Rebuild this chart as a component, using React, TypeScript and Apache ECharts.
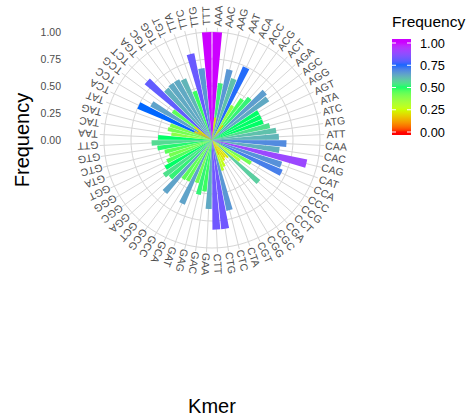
import React, { useEffect, useRef } from 'react';
import * as echarts from 'echarts';

const FONT = "'Liberation Sans', Arial, Helvetica, sans-serif";

const kmers = [
  'AAA', 'AAC', 'AAG', 'AAT', 'ACA', 'ACC', 'ACG', 'ACT', 'AGA', 'AGC', 'AGG', 'AGT', 'ATA', 'ATC', 'ATG', 'ATT',
  'CAA', 'CAC', 'CAG', 'CAT', 'CCA', 'CCC', 'CCG', 'CCT', 'CGA', 'CGC', 'CGG', 'CGT', 'CTA', 'CTC', 'CTG', 'CTT',
  'GAA', 'GAC', 'GAG', 'GAT', 'GCA', 'GCC', 'GCG', 'GCT', 'GGA', 'GGC', 'GGG', 'GGT', 'GTA', 'GTC', 'GTG', 'GTT',
  'TAA', 'TAC', 'TAG', 'TAT', 'TCA', 'TCC', 'TCG', 'TCT', 'TGA', 'TGC', 'TGG', 'TGT', 'TTA', 'TTC', 'TTG', 'TTT',
];

// longest bar of each kmer
const frequency = [
  1.00, 0.53, 0.67, 0.60, 0.74, 0.37, 0.47, 0.52, 0.66, 0.64, 0.50, 0.50, 0.50, 0.55, 0.60, 0.62,
  0.69, 0.63, 0.90, 0.68, 0.71, 0.42, 0.32, 0.58, 0.22, 0.20, 0.22, 0.27, 0.30, 0.67, 0.83, 0.83,
  0.64, 0.48, 0.52, 0.42, 0.65, 0.44, 0.45, 0.65, 0.52, 0.55, 0.50, 0.46, 0.42, 0.45, 0.51, 0.56,
  0.50, 0.38, 0.42, 0.41, 0.75, 0.65, 0.45, 0.81, 0.63, 0.64, 0.64, 0.62, 0.48, 0.82, 0.67, 1.00,
];

// shorter bars of the same kmer, drawn on top
const innerFrequency: (number | string)[] = [
  '-', 0.21, '-', '-', '-', '-', 0.17, '-', '-', '-', '-', '-', '-', '-', '-', '-',
  '-', '-', '-', '-', '-', '-', '-', '-', '-', '-', '-', 0.15, '-', '-', '-', '-',
  '-', '-', '-', '-', '-', '-', '-', '-', '-', '-', '-', '-', '-', '-', '-', '-',
  '-', '-', '-', '-', 0.18, 0.15, 0.20, '-', '-', '-', '-', '-', '-', '-', '-', '-',
];

const legendBreaks = [0, 0.25, 0.5, 0.75, 1];
const rampColours = ['#FF0000', '#CCFF00', '#00FF66', '#0066FF', '#CC00FF'];

// ---- CIELAB colour ramp (like ggplot's gradientn) ----
const WX = 0.95047, WY = 1.0, WZ = 1.08883;
function hexToRgb(h: string) {
  const n = parseInt(h.slice(1), 16);
  return [(n >> 16) & 255, (n >> 8) & 255, n & 255];
}
function toLin(c: number) { c /= 255; return c <= 0.04045 ? c / 12.92 : Math.pow((c + 0.055) / 1.055, 2.4); }
function fromLin(c: number) {
  const v = c <= 0.0031308 ? 12.92 * c : 1.055 * Math.pow(Math.max(c, 0), 1 / 2.4) - 0.055;
  return Math.round(Math.max(0, Math.min(1, v)) * 255);
}
function fLab(t: number) { return t > 216 / 24389 ? Math.cbrt(t) : (24389 / 27 * t + 16) / 116; }
function fInv(t: number) { const t3 = t * t * t; return t3 > 216 / 24389 ? t3 : (116 * t - 16) / (24389 / 27); }
function hexToLab(h: string) {
  const [r0, g0, b0] = hexToRgb(h);
  const r = toLin(r0), g = toLin(g0), b = toLin(b0);
  const x = (0.4124564 * r + 0.3575761 * g + 0.1804375 * b) / WX;
  const y = (0.2126729 * r + 0.7151522 * g + 0.0721750 * b) / WY;
  const z = (0.0193339 * r + 0.1191920 * g + 0.9503041 * b) / WZ;
  const fx = fLab(x), fy = fLab(y), fz = fLab(z);
  return [116 * fy - 16, 500 * (fx - fy), 200 * (fy - fz)];
}
function labToHex(L: number, A: number, B: number) {
  const fy = (L + 16) / 116, fx = fy + A / 500, fz = fy - B / 200;
  const x = fInv(fx) * WX, y = fInv(fy) * WY, z = fInv(fz) * WZ;
  const r = 3.2404542 * x - 1.5371385 * y - 0.4985314 * z;
  const g = -0.9692660 * x + 1.8760108 * y + 0.0415560 * z;
  const b = 0.0556434 * x - 0.2040259 * y + 1.0572252 * z;
  return 'rgb(' + fromLin(r) + ',' + fromLin(g) + ',' + fromLin(b) + ')';
}
const rampLab = rampColours.map(hexToLab);
function ramp(v: any) {
  const num = typeof v === 'number' ? v : Array.isArray(v) ? Number(v[v.length - 1]) : Number(v);
  if (!isFinite(num)) return 'rgba(0,0,0,0)';
  const t = Math.max(0, Math.min(1, num)) * (rampLab.length - 1);
  const i = Math.max(0, Math.min(rampLab.length - 2, Math.floor(t)));
  const f = t - i;
  const a = rampLab[i], b = rampLab[i + 1];
  return labToHex(a[0] + (b[0] - a[0]) * f, a[1] + (b[1] - a[1]) * f, a[2] + (b[2] - a[2]) * f);
}

// ---- layout ----
const CX = 212, CY = 140, R1 = 108; // px for frequency 1.0
const RMAX = 1.04;
const LABEL_R = 1.15;

// legend geometry
const LG_X = 392, LG_TOP = 39, LG_H = 96, LG_W = 19;
const LG_Y0 = 132, LG_Y1 = 43; // y of value 0 and value 1
function legendY(v: number) { return LG_Y0 + (LG_Y1 - LG_Y0) * v; }

export default function App() {
  const ref = useRef<HTMLDivElement>(null);
  useEffect(() => {
    if (!ref.current) return;
    const chart = echarts.init(ref.current, undefined, { renderer: 'svg' });

    const stops: { offset: number; color: string }[] = [];
    for (let k = 0; k <= 60; k++) {
      const off = k / 60;
      const y = LG_TOP + off * LG_H;
      const v = (y - LG_Y0) / (LG_Y1 - LG_Y0);
      stops.push({ offset: off, color: ramp(v) });
    }

    const legendGraphics: any[] = [
      { type: 'text', x: LG_X, y: 21, style: { text: 'Frequency', fill: '#000', fontSize: 15.5, fontFamily: FONT, align: 'left', verticalAlign: 'middle' } },
      {
        type: 'rect', shape: { x: LG_X, y: LG_TOP, width: LG_W, height: LG_H },
        style: { fill: new echarts.graphic.LinearGradient(0, 0, 0, 1, stops) },
      },
    ];
    legendBreaks.forEach((b) => {
      const y = legendY(b);
      legendGraphics.push({ type: 'line', shape: { x1: LG_X, y1: y, x2: LG_X + 4, y2: y }, style: { stroke: '#fff', lineWidth: 1 } });
      legendGraphics.push({ type: 'line', shape: { x1: LG_X + LG_W - 4, y1: y, x2: LG_X + LG_W, y2: y }, style: { stroke: '#fff', lineWidth: 1 } });
      legendGraphics.push({
        type: 'text', x: 420, y,
        style: { text: b.toFixed(2), fill: '#000', fontSize: 12.8, fontFamily: FONT, align: 'left', verticalAlign: 'middle' },
      });
    });

    const option: any = {
      animation: false,
      backgroundColor: '#fff',
      polar: { center: [CX, CY], radius: R1 * RMAX },
      angleAxis: {
        type: 'category', data: kmers, startAngle: 90, clockwise: true, boundaryGap: true,
        axisLine: { show: false }, axisLabel: { show: false, interval: 0 },
        axisTick: { show: false, alignWithLabel: true, interval: 0 },
        splitLine: { show: true, interval: 0, lineStyle: { color: '#d6d6d6', width: 1 } },
      },
      radiusAxis: {
        type: 'value', min: 0, max: RMAX, interval: 0.25,
        axisLine: { show: false }, axisLabel: { show: false }, axisTick: { show: false },
        splitLine: { show: true, lineStyle: { color: ['#d6d6d6', '#d6d6d6', '#d6d6d6', '#d6d6d6', '#d6d6d6', 'rgba(0,0,0,0)'], width: 1 } },
      },
      grid: { left: 64, top: CY - R1, height: R1, width: 10 },
      xAxis: { type: 'value', show: false, min: 0, max: 1 },
      yAxis: {
        type: 'value', min: 0, max: 1, interval: 0.25,
        axisLine: { show: false }, axisTick: { show: false }, splitLine: { show: false },
        axisLabel: { formatter: (v: number) => v.toFixed(2), color: '#4d4d4d', fontSize: 10.5, fontFamily: FONT, margin: 3 },
      },
      series: [
        {
          type: 'bar', coordinateSystem: 'polar', data: frequency,
          barCategoryGap: '10%', barGap: '-100%',
          itemStyle: { color: (p: any) => ramp(p && p.value) },
        },
        {
          type: 'bar', coordinateSystem: 'polar', data: innerFrequency,
          barCategoryGap: '10%', barGap: '-100%',
          itemStyle: { color: (p: any) => ramp(p && p.value) },
        },
        {
          type: 'custom', coordinateSystem: 'polar',
          data: kmers.map((k) => [LABEL_R, k]),
          renderItem: (params: any, api: any) => {
            const pt = api.coord([api.value(0), api.value(1)]);
            const cs = params.coordSys || {};
            if (!pt) return null;
            const cx = cs.cx != null ? cs.cx : CX;
            const cy = cs.cy != null ? cs.cy : CY;
            const rot = Math.atan2(cy - pt[1], pt[0] - cx);
            return {
              type: 'text', x: pt[0], y: pt[1], rotation: rot,
              style: {
                text: kmers[params.dataIndex], fill: '#4d4d4d', fontSize: 10.5, fontFamily: FONT,
                align: 'center', verticalAlign: 'middle',
              },
            };
          },
          z: 5,
        },
      ],
      graphic: [
        {
          type: 'text', x: 22, y: CY, rotation: Math.PI / 2,
          style: { text: 'Frequency', fill: '#000', fontSize: 20, fontFamily: FONT, align: 'center', verticalAlign: 'middle' },
        },
        {
          type: 'text', x: CX, y: 406,
          style: { text: 'Kmer', fill: '#000', fontSize: 20, fontFamily: FONT, align: 'center', verticalAlign: 'middle' },
        },
        ...legendGraphics,
      ],
    };
    chart.setOption(option);
    return () => chart.dispose();
  }, []);
  return <div ref={ref} style={{ position: 'fixed', left: 0, top: 0, width: 469, height: 418, background: '#fff' }} />;
}
